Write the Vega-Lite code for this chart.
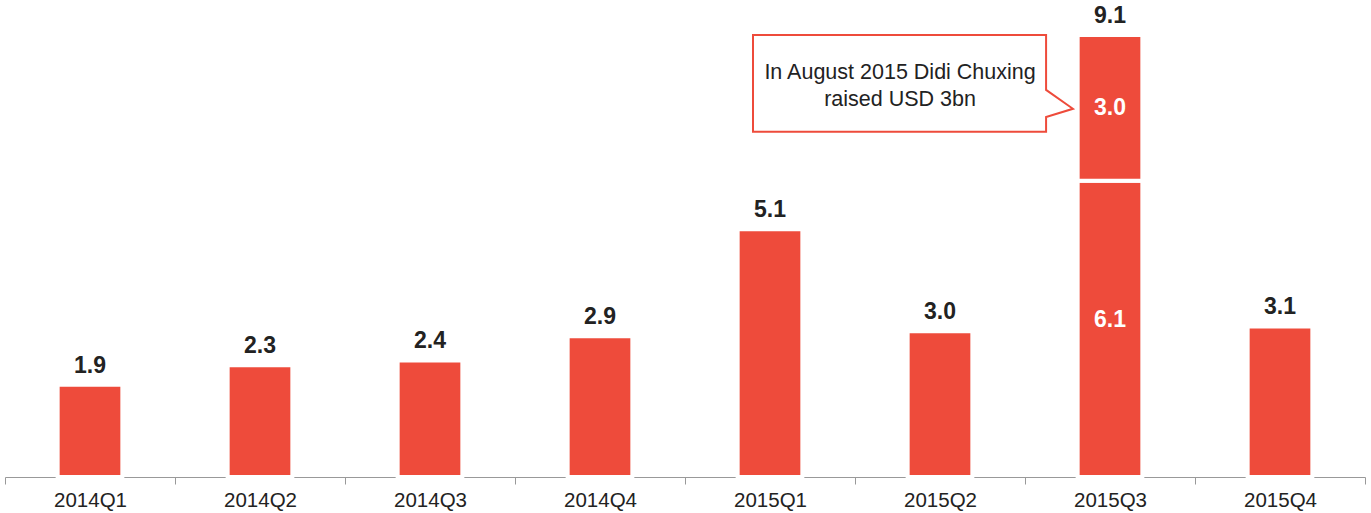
{
  "$schema": "https://vega.github.io/schema/vega-lite/v6.json",
  "width": 1360,
  "height": 477,
  "autosize": {"type": "none"},
  "padding": {"left": 5, "top": 0, "right": 6, "bottom": 36},
  "background": "white",
  "config": {"view": {"stroke": null}, "font": "Liberation Sans"},
  "datasets": {
    "segs": [
      {"q": "2014Q1", "v": 1.9, "o": 1},
      {"q": "2014Q2", "v": 2.3, "o": 1},
      {"q": "2014Q3", "v": 2.4, "o": 1},
      {"q": "2014Q4", "v": 2.9, "o": 1},
      {"q": "2015Q1", "v": 5.1, "o": 1},
      {"q": "2015Q2", "v": 3.0, "o": 1},
      {"q": "2015Q3", "v": 6.1, "o": 1},
      {"q": "2015Q3", "v": 3.0, "o": 2},
      {"q": "2015Q4", "v": 3.1, "o": 1}
    ],
    "totals": [
      {"q": "2014Q1", "total": 1.9},
      {"q": "2014Q2", "total": 2.3},
      {"q": "2014Q3", "total": 2.4},
      {"q": "2014Q4", "total": 2.9},
      {"q": "2015Q1", "total": 5.1},
      {"q": "2015Q2", "total": 3.0},
      {"q": "2015Q3", "total": 9.1},
      {"q": "2015Q4", "total": 3.1}
    ],
    "callout": [
      {"cx": 4.40, "cy": 9.10, "k": 1},
      {"cx": 6.124, "cy": 9.10, "k": 2},
      {"cx": 6.124, "cy": 7.97, "k": 3},
      {"cx": 6.282, "cy": 7.58, "k": 4},
      {"cx": 6.124, "cy": 7.41, "k": 5},
      {"cx": 6.124, "cy": 7.11, "k": 6},
      {"cx": 4.40, "cy": 7.11, "k": 7}
    ],
    "note": [
      {"tx": 5.265, "ty": 8.32, "t": "In August 2015 Didi Chuxing"},
      {"tx": 5.265, "ty": 7.76, "t": "raised USD 3bn"}
    ]
  },
  "layer": [
    {
      "encoding": {
        "x": {"field": "q", "type": "nominal", "sort": null,
              "scale": {"paddingInner": 0.6194, "paddingOuter": 0.3097}, "axis": null}
      },
      "layer": [
        {
          "data": {"name": "segs"},
          "mark": {"type": "bar", "color": "#EE4B3B", "stroke": "white", "strokeWidth": 4},
          "encoding": {
            "y": {"field": "v", "type": "quantitative", "stack": "zero",
                  "scale": {"domain": [0, 9.82], "nice": false, "zero": true}, "axis": null},
            "order": {"field": "o", "type": "quantitative"}
          }
        },
        {
          "data": {"name": "totals"},
          "mark": {"type": "text", "fontSize": 23, "fontWeight": "bold", "color": "#222222", "baseline": "alphabetic", "dy": -12},
          "encoding": {
            "y": {"field": "total", "type": "quantitative", "axis": null},
            "text": {"field": "total", "type": "quantitative", "format": ".1f"}
          }
        },
        {
          "data": {"name": "segs"},
          "transform": [
            {"filter": "datum.q == '2015Q3'"},
            {"stack": "v", "groupby": ["q"], "sort": [{"field": "o"}], "as": ["v0", "v1"]},
            {"filter": "datum.o == 2"}
          ],
          "mark": {"type": "text", "fontSize": 23, "fontWeight": "bold", "color": "white", "baseline": "middle", "dy": -73},
          "encoding": {
            "y": {"field": "v0", "type": "quantitative", "axis": null},
            "text": {"field": "v", "type": "quantitative", "format": ".1f"}
          }
        },
        {
          "data": {"name": "segs"},
          "transform": [
            {"filter": "datum.q == '2015Q3'"},
            {"stack": "v", "groupby": ["q"], "sort": [{"field": "o"}], "as": ["v0", "v1"]},
            {"filter": "datum.o == 1"}
          ],
          "mark": {"type": "text", "fontSize": 23, "fontWeight": "bold", "color": "white", "baseline": "middle", "dy": -157},
          "encoding": {
            "y": {"field": "v0", "type": "quantitative", "axis": null},
            "text": {"field": "v", "type": "quantitative", "format": ".1f"}
          }
        }
      ]
    },
    {
      "encoding": {
        "x": {"type": "quantitative",
              "scale": {"domain": [0, 8], "nice": false, "zero": false},
              "axis": {"orient": "bottom", "values": [0, 1, 2, 3, 4, 5, 6, 7, 8], "title": null, "grid": false,
                       "domainColor": "#999999", "tickColor": "#999999", "tickSize": 7, "domainWidth": 1, "tickWidth": 1,
                       "labelExpr": "datum.value < 8 ? ['2014Q1','2014Q2','2014Q3','2014Q4','2015Q1','2015Q2','2015Q3','2015Q4'][datum.value] : ''",
                       "labelOffset": 85, "labelFontSize": 20.5, "labelColor": "#222222", "labelPadding": 6,
                       "labelFlush": false, "labelOverlap": false, "labelBound": false, "labelAlign": "center", "labelAngle": 0}}
      },
      "layer": [
        {
          "data": {"name": "callout"},
          "mark": {"type": "line", "interpolate": "linear-closed", "fill": "white", "stroke": "#EE4B3B", "strokeWidth": 2},
          "encoding": {
            "x": {"field": "cx", "type": "quantitative"},
            "y": {"field": "cy", "type": "quantitative", "axis": null},
            "order": {"field": "k", "type": "quantitative"}
          }
        },
        {
          "data": {"name": "note"},
          "mark": {"type": "text", "fontSize": 21.5, "color": "#222222", "baseline": "middle", "align": "center"},
          "encoding": {
            "x": {"field": "tx", "type": "quantitative"},
            "y": {"field": "ty", "type": "quantitative", "axis": null},
            "text": {"field": "t", "type": "nominal"}
          }
        }
      ]
    }
  ],
  "resolve": {"scale": {"x": "independent"}, "axis": {"x": "independent"}}
}
